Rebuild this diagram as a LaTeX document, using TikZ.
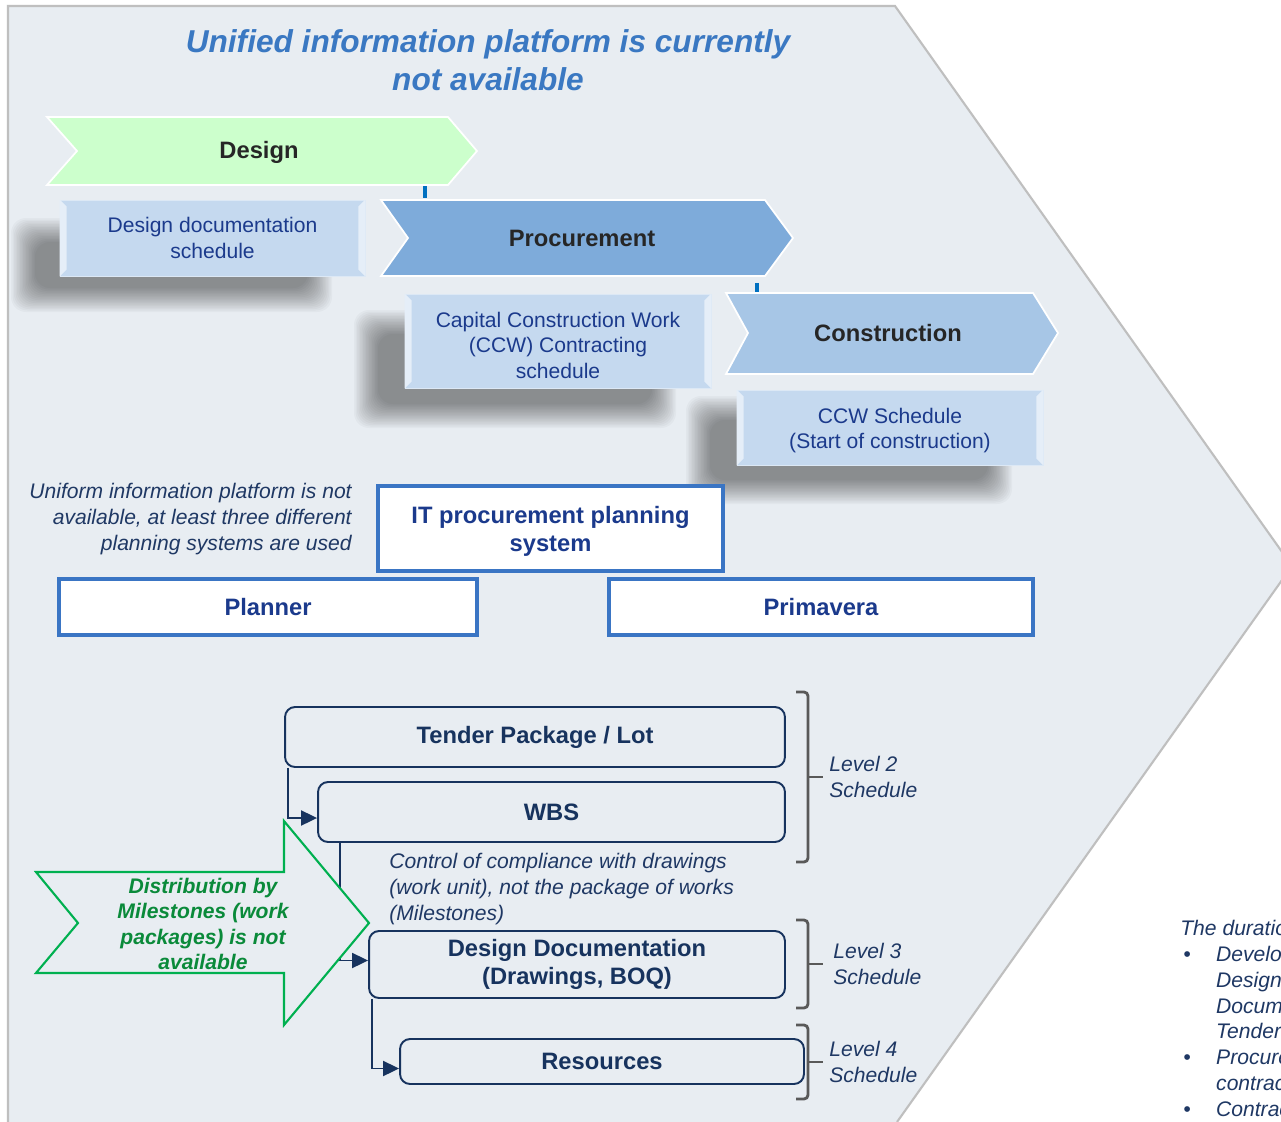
\documentclass[tikz,border=0pt]{standalone}
\usepackage{fontspec}
\setmainfont{Liberation Sans}
\usetikzlibrary{arrows.meta}

\definecolor{bgpanel}{HTML}{E8EDF2}
\definecolor{panelline}{HTML}{BFBFBF}
\definecolor{titleblue}{HTML}{3A78C2}
\definecolor{navy}{HTML}{1B3A8C}
\definecolor{darknavy}{HTML}{17335E}
\definecolor{textnavy}{HTML}{1F3864}
\definecolor{boxblue}{HTML}{C5D9EF}
\definecolor{frameblue}{HTML}{3A75C4}
\definecolor{designgreen}{HTML}{CCFFCC}
\definecolor{procblue}{HTML}{7EABDA}
\definecolor{constblue}{HTML}{A7C6E6}
\definecolor{tickblue}{HTML}{0070C0}
\definecolor{arrowgreen}{HTML}{00B050}
\definecolor{textgreen}{HTML}{0A8A3A}
\definecolor{bracegray}{HTML}{595959}

\newcommand{\durbul}{\makebox[20.4pt][l]{\hspace{1.7pt}\textbullet}}
\newcommand{\durind}{\hspace*{20.4pt}}

\tikzset{
  schedbox/.style={fill=boxblue, draw=white!40!boxblue, text=navy, align=center,
    font=\fontsize{12}{14.5}\selectfont, inner sep=0pt},
  sysbox/.style={fill=white, draw=frameblue, line width=1.8pt, text=navy, align=center,
    font=\fontsize{13.5}{16.4}\selectfont\bfseries, inner sep=0pt},
  levelbox/.style={draw=darknavy, line width=1.1pt, rounded corners=0.2cm, text=darknavy,
    align=center, font=\fontsize{13.5}{16}\selectfont\bfseries, inner sep=0pt},
  conn/.style={draw=darknavy, line width=1.1pt, -{Triangle[length=0.32cm,width=0.3cm]}},
  note/.style={text=textnavy, font=\fontsize{12}{14.7}\selectfont\itshape, inner sep=0pt},
  brace/.style={draw=bracegray, line width=1.6pt, rounded corners=0.08cm},
  phase/.style={font=\fontsize{13.5}{16}\selectfont\bfseries, text=black!85},
  softshadow/.style={fill=black, opacity=0.027, rounded corners=0.3cm},
}

\begin{document}
\begin{tikzpicture}[x=0.02cm, y=-0.02cm]
  \useasboundingbox (0,0) rectangle (1281,1122);
  \clip (0,0) rectangle (1281,1122);

  % panel
  \fill[white] (0,0) rectangle (1281,1122);
  \fill[bgpanel] (8,6) -- (895,6) -- (1292,566) -- (897,1122) -- (8,1122) -- cycle;
  \draw[panelline, line width=1.2pt] (8,1122) -- (8,6) -- (895,6) -- (1292,566) -- (897,1122);

  % title
  \node[text=titleblue, font=\fontsize{18}{21.5}\selectfont\bfseries\itshape, align=center]
    (title) at (488,60) {Unified information platform is currently\\not available};

  % soft shadows behind the schedule boxes
  \foreach \xa/\ya/\xb/\yb in {11/218/332/312, 354/310/676/428, 686/396/1012/504} {
    \foreach \i in {0,...,16}
      \fill[softshadow] ({\xa+1.5*\i},{\ya+1.5*\i}) rectangle ({\xb-1.5*\i},{\yb-1.5*\i});
  }

  % phase arrows
  \filldraw[fill=designgreen, draw=white, line width=1pt]
    (47,117) -- (448,117) -- (477,151) -- (448,185) -- (47,185) -- (77,151) -- cycle;
  \node[phase] (design) at (259,152) {Design};
  \draw[tickblue, line width=2pt] (425,186) -- (425,198);

  % schedule boxes
  \node[schedbox, minimum width=6.1cm, minimum height=1.52cm] (d1) at (212.5,238)
    {Design documentation\\schedule};
  \node[schedbox, minimum width=6.12cm, minimum height=1.88cm] (ccw1) at (558,341)
    {\rule{0pt}{13.3pt}Capital Construction Work\\(CCW) Contracting\\schedule};
  \node[schedbox, minimum width=6.12cm, minimum height=1.5cm] (ccw2) at (890,427.5)
    {\rule{0pt}{12.2pt}CCW Schedule\\(Start of construction)};
  \foreach \b in {d1,ccw1,ccw2} {
    \fill[white!55!boxblue] (\b.north west) -- ([shift={(7,7)}]\b.north west)
      -- ([shift={(7,-7)}]\b.south west) -- (\b.south west) -- cycle;
    \fill[white!55!boxblue] (\b.north east) -- ([shift={(-7,7)}]\b.north east)
      -- ([shift={(-7,-7)}]\b.south east) -- (\b.south east) -- cycle;
  }

  \filldraw[fill=procblue, draw=white, line width=1pt]
    (381,200) -- (765,200) -- (793,238) -- (765,276) -- (381,276) -- (408,238) -- cycle;
  \node[phase] (proc) at (582,238) {Procurement};
  \draw[tickblue, line width=2pt] (757,283) -- (757,292);

  \filldraw[fill=constblue, draw=white, line width=1pt]
    (726,293) -- (1033,293) -- (1058,333) -- (1033,374) -- (726,374) -- (748,333) -- cycle;
  \node[phase] (constr) at (888,333) {Construction};

  % planning systems
  \node[note, align=right, anchor=east] (uniform) at (352,519)
    {Uniform information platform is not\\available, at least three different\\planning systems are used};
  \node[sysbox, minimum width=6.9cm, minimum height=1.7cm] (itsys) at (550.5,528.5)
    {\rule{0pt}{13.1pt}IT procurement planning\\system};
  \node[sysbox, minimum width=8.36cm, minimum height=1.12cm] (planner) at (268,607) {Planner};
  \node[sysbox, minimum width=8.48cm, minimum height=1.12cm] (prima) at (821,607) {Primavera};

  % schedule levels
  \node[levelbox, minimum width=10cm, minimum height=1.2cm] (tender) at (535,737)
    {Tender Package / Lot};
  \node[levelbox, minimum width=9.34cm, minimum height=1.2cm] (wbs) at (551.5,812) {WBS};
  \node[levelbox, minimum width=8.32cm, minimum height=1.34cm] (ddoc) at (577,964.5)
    {Design Documentation\\(Drawings, BOQ)};
  \node[levelbox, minimum width=8.08cm, minimum height=0.9cm] (res) at (602,1061.5)
    {Resources};

  \draw[conn] ([xshift=0.08cm]tender.south west) |- ([yshift=-0.12cm]wbs.west);
  \draw[conn] ([xshift=0.46cm]wbs.south west) |- ([yshift=0.08cm]ddoc.west);
  \draw[conn] ([xshift=0.08cm]ddoc.south west) |- ([yshift=-0.14cm]res.west);

  \node[note, align=left, anchor=west] (control) at (389,889)
    {Control of compliance with drawings\\(work unit), not the package of works\\(Milestones)};

  \foreach \t/\bt/\m/\l/\lx in {692/862/777/2/829, 920/1008/964/3/833, 1025/1099/1062/4/829} {
    \draw[brace] (796,\t) -- (808,\t) -- (808,\bt) -- (796,\bt);
    \draw[brace] (808,\m) -- (823,\m);
    \node[note, align=left, anchor=west] (lvl\l) at (\lx,\m) {Level \l\\Schedule};
  }

  % milestones arrow
  \filldraw[fill=bgpanel, draw=arrowgreen, line width=1.2pt]
    (36,872) -- (284,872) -- (284,821) -- (369,923) -- (284,1025) -- (284,973)
    -- (36,973) -- (78,923) -- cycle;
  \node[text=textgreen, font=\fontsize{12}{14.5}\selectfont\bfseries\itshape, align=center]
    (milest) at (203,924) {Distribution by\\Milestones (work\\packages) is not\\available};

  % duration text
  \node[note, align=left, anchor=north west] (duration) at (1180,920)
    {The duration of\\
     \durbul Development\\
     \durind Design\\
     \durind Documentation\\
     \durind Tender\\
     \durbul Procurement\\
     \durind contract\\
     \durbul Contract};
\end{tikzpicture}
\end{document}
